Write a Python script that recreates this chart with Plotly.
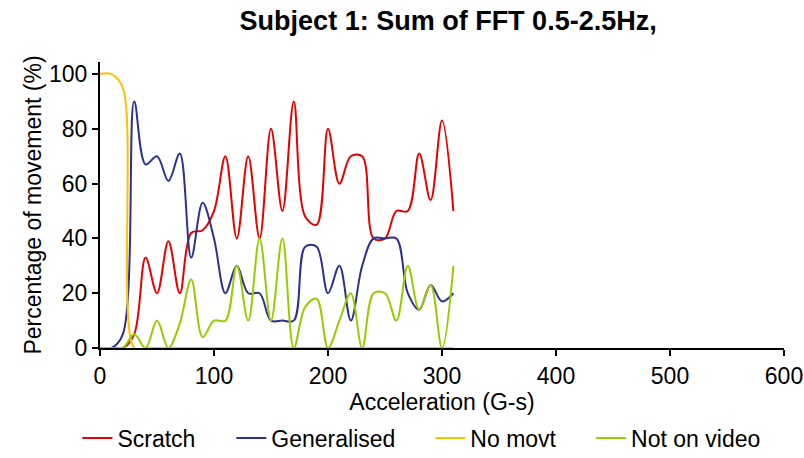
import plotly.graph_objects as go

x_vals = [0, 10, 20, 30, 40, 50, 60, 70, 80, 90, 100, 110, 120, 130, 140, 150,
          160, 170, 180, 190, 200, 210, 220, 230, 240, 250, 260, 270, 280, 290, 300, 310]

scratch = [0, 0, 0, 5, 33, 20, 39, 20, 42, 43, 50, 70, 40, 70, 40, 80,
           50, 90, 48, 45, 80, 60, 70, 70, 40, 40, 50, 50, 71, 54, 83, 50]
generalised = [0, 0, 5, 90, 67, 70, 61, 71, 33, 53, 40, 20, 30, 20, 20, 10,
               10, 10, 37, 37, 20, 30, 10, 30, 40, 40, 40, 20, 14, 23, 17, 20]
no_movt = [100, 100, 95, 0, 0, 0, 0, 0, 0, 0, 0, 0, 0, 0, 0, 0,
           0, 0, 0, 0, 0, 0, 0, 0, 0, 0, 0, 0, 0, 0, 0, 0]
not_on_video = [0, 0, 0, 5, 0, 10, 0, 9, 25, 4, 10, 10, 30, 10, 40, 10,
                40, 0, 15, 18, 0, 10, 20, 0, 20, 20, 10, 30, 14, 23, 0, 30]

series_names = ["Scratch", "Generalised", "No movt", "Not on video"]
series_data = [scratch, generalised, no_movt, not_on_video]
series_colors = ["#E60000", "#2E3192", "#FFC000", "#99CC00"]
legend_ids = ["legend", "legend2", "legend3", "legend4"]
legend_x = [-0.033, 0.192, 0.483, 0.718]

x_ticks = [0, 100, 200, 300, 400, 500, 600]
y_ticks = [0, 20, 40, 60, 80, 100]

font_family = "Liberation Sans, Arial, sans-serif"
FS = 23

fig = go.Figure()
for name, data, color, lid in zip(series_names, series_data, series_colors, legend_ids):
    fig.add_trace(go.Scatter(
        x=x_vals, y=data, name=name, mode="lines",
        line=dict(color=color, width=2, shape="spline", smoothing=1.0),
        cliponaxis=False, legend=lid,
    ))

legend_common = dict(orientation="h", yanchor="middle", y=-0.315, xanchor="left",
                     font=dict(size=FS), bgcolor="rgba(0,0,0,0)")

layout_legends = {}
for lid, lx in zip(legend_ids, legend_x):
    layout_legends[lid] = dict(legend_common, x=lx)

fig.update_layout(
    width=804, height=458,
    paper_bgcolor="white", plot_bgcolor="white",
    margin=dict(l=100, r=20, t=62, b=110, autoexpand=False),
    font=dict(family=font_family, size=FS, color="black"),
    title=dict(text="<b>Subject 1: Sum of FFT 0.5-2.5Hz,</b>",
               font=dict(family=font_family, size=27, color="black"),
               x=0.509 * 684 / 804 + 100 / 804, xref="container", xanchor="center",
               y=0.955, yanchor="middle"),
    showlegend=True,
    **layout_legends,
)

fig.update_xaxes(
    range=[0, 600], tickvals=x_ticks, ticktext=[str(v) for v in x_ticks],
    showline=True, linecolor="black", linewidth=2,
    ticks="outside", ticklen=6, tickwidth=2, tickcolor="black",
    showgrid=False, zeroline=False, automargin=False,
    title=dict(text="Acceleration (G-s)", font=dict(size=FS), standoff=2),
    tickfont=dict(size=FS),
)
fig.update_yaxes(
    range=[0, 104.4], tickvals=y_ticks, ticktext=[str(v) for v in y_ticks],
    showline=True, linecolor="black", linewidth=2,
    ticks="outside", ticklen=6, tickwidth=2, tickcolor="black",
    showgrid=False, zeroline=False, automargin=False,
    ticklabelstandoff=0,
    title=dict(text="Percentage of movement (%)", font=dict(size=FS), standoff=1),
    tickfont=dict(size=FS),
)

fig.write_html("out.html")
